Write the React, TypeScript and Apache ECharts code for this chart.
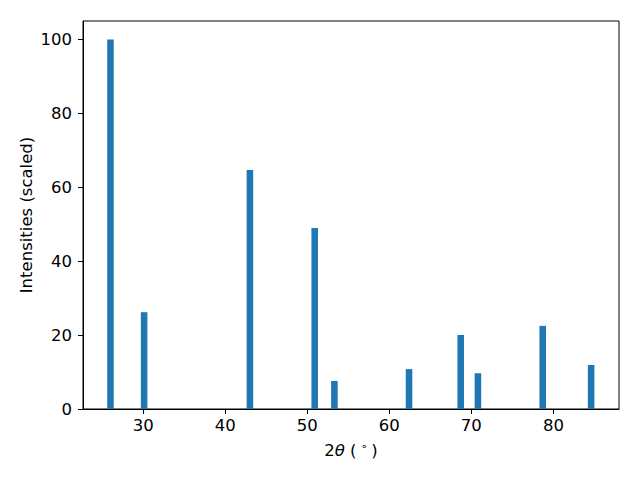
import React, { useEffect, useRef } from "react";
import * as echarts from "echarts";

const twoTheta = [26.0, 30.1, 43.0, 50.9, 53.3, 62.4, 68.7, 70.8, 78.7, 84.6];
const intensities = [100, 26.2, 64.7, 49.0, 7.6, 10.8, 20.0, 9.7, 22.5, 11.9];
const xTicks = [30, 40, 50, 60, 70, 80];
const yTicks = [0, 20, 40, 60, 80, 100];
const barWidth = 0.8;

export default function App() {
  const ref = useRef<HTMLDivElement>(null);
  useEffect(() => {
    if (!ref.current) return;
    const chart = echarts.init(ref.current, null, { renderer: "svg" });
    const font = "DejaVu Sans";
    const fs = 16.5;
    chart.setOption({
      animation: false,
      textStyle: { fontFamily: font },
      grid: {
        left: 83,
        right: 21,
        top: 21,
        bottom: 71,
        show: true,
        borderColor: "#000",
        borderWidth: 1,
        backgroundColor: "transparent",
      },
      xAxis: {
        type: "value",
        min: 22.65,
        max: 88.0,
        splitLine: { show: false },
        axisLine: { show: true, lineStyle: { color: "#000", width: 1 } },
        axisTick: {
          show: true,
          inside: false,
          length: 5,
          customValues: xTicks,
          lineStyle: { color: "#000" },
        },
        axisLabel: {
          customValues: xTicks,
          color: "#000",
          fontSize: fs,
          fontFamily: font,
          margin: 8,
        },
        name: "{n|2}{i|θ}{n| (}{s|∘}{n|)}",
        nameLocation: "middle",
        nameGap: 32,
        nameMoveOverlap: false,
        nameTextStyle: {
          rich: {
            n: { fontSize: fs, color: "#000", fontFamily: font },
            i: { fontSize: fs, color: "#000", fontFamily: font, fontStyle: "italic" },
            s: { fontSize: 11, color: "#000", fontFamily: font, verticalAlign: "top", padding: [0, 4, 7, 4] },
          },
        },
      },
      yAxis: {
        type: "value",
        min: 0,
        max: 105,
        splitLine: { show: false },
        axisLine: { show: true, lineStyle: { color: "#000", width: 1 } },
        axisTick: {
          show: true,
          inside: false,
          length: 5,
          customValues: yTicks,
          lineStyle: { color: "#000" },
        },
        axisLabel: {
          customValues: yTicks,
          color: "#000",
          fontSize: fs,
          fontFamily: font,
          margin: 11,
        },
        name: "Intensities (scaled)",
        nameLocation: "middle",
        nameGap: 48,
        nameMoveOverlap: false,
        nameTextStyle: { fontSize: fs, color: "#000", fontFamily: font },
      },
      series: [
        {
          type: "custom",
          data: twoTheta.map((x, i) => [x, intensities[i]]),
          encode: { x: 0, y: 1 },
          renderItem: (params: any, api: any) => {
            const x = api.value(0);
            const y = api.value(1);
            const p1 = api.coord([x - barWidth / 2, y]);
            const p2 = api.coord([x + barWidth / 2, 0]);
            return {
              type: "rect",
              shape: { x: p1[0], y: p1[1], width: p2[0] - p1[0], height: p2[1] - p1[1] },
              style: { fill: "#1f77b4" },
            };
          },
        },
      ],
    });
    return () => chart.dispose();
  }, []);
  return <div ref={ref} style={{ width: 640, height: 480, margin: -8 }} />;
}
